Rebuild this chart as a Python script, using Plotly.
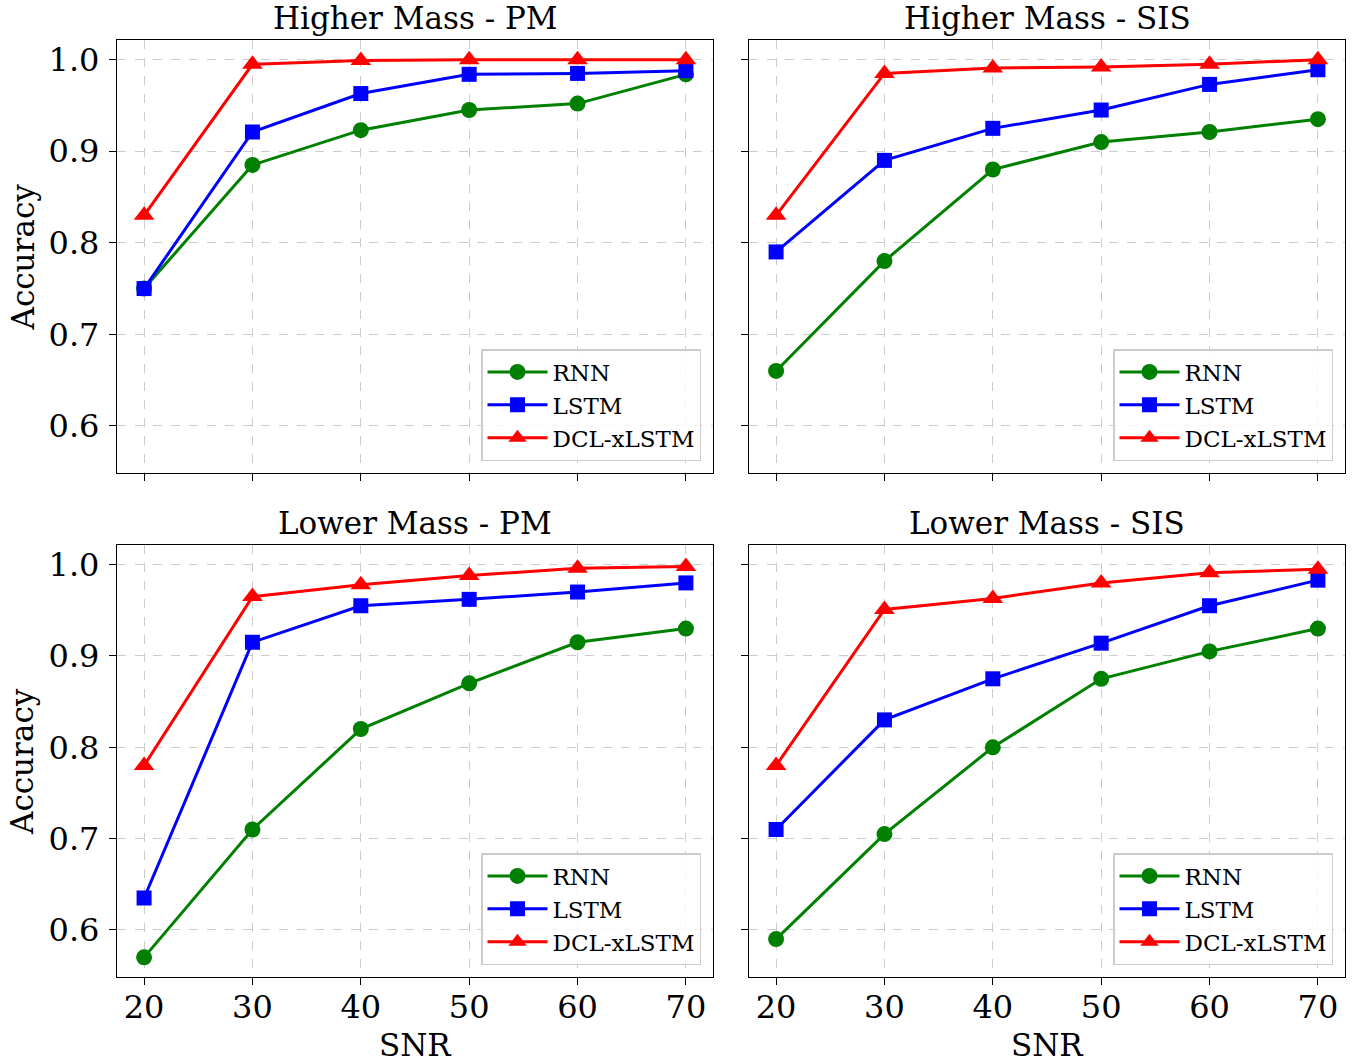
import plotly.graph_objects as go

snr = [20, 30, 40, 50, 60, 70]
y_ticks = [0.6, 0.7, 0.8, 0.9, 1.0]
models = ["RNN", "LSTM", "DCL-xLSTM"]

hm_pm_rnn = [0.75, 0.885, 0.923, 0.945, 0.952, 0.984]
hm_pm_lstm = [0.75, 0.921, 0.963, 0.984, 0.985, 0.988]
hm_pm_dcl = [0.83, 0.995, 0.999, 1.0, 1.0, 1.0]

hm_sis_rnn = [0.66, 0.78, 0.88, 0.91, 0.921, 0.935]
hm_sis_lstm = [0.79, 0.89, 0.925, 0.945, 0.973, 0.989]
hm_sis_dcl = [0.83, 0.985, 0.991, 0.992, 0.995, 1.0]

lm_pm_rnn = [0.57, 0.71, 0.82, 0.87, 0.915, 0.93]
lm_pm_lstm = [0.635, 0.915, 0.955, 0.962, 0.97, 0.98]
lm_pm_dcl = [0.78, 0.965, 0.978, 0.988, 0.996, 0.998]

lm_sis_rnn = [0.59, 0.705, 0.80, 0.875, 0.905, 0.93]
lm_sis_lstm = [0.71, 0.83, 0.875, 0.914, 0.955, 0.983]
lm_sis_dcl = [0.78, 0.951, 0.963, 0.98, 0.991, 0.995]

titles = ["Higher Mass - PM", "Higher Mass - SIS", "Lower Mass - PM", "Lower Mass - SIS"]
x_label = "SNR"
y_label = "Accuracy"
panels = [
    (hm_pm_rnn, hm_pm_lstm, hm_pm_dcl),
    (hm_sis_rnn, hm_sis_lstm, hm_sis_dcl),
    (lm_pm_rnn, lm_pm_lstm, lm_pm_dcl),
    (lm_sis_rnn, lm_sis_lstm, lm_sis_dcl),
]

colors = ["green", "blue", "red"]
symbols = ["circle", "square", "triangle-up"]
msizes = [16, 15, 18]

FONT = "DejaVu Serif"
W, H = 1356, 1062
AX_L, AX_R = 117, 1345
AX_T, AX_B = 40, 977
ML, MR, MT, MB = AX_L, W - AX_R, AX_T, H - AX_B
PW = AX_R - AX_L
PH = AX_B - AX_T

def px_x(x):
    return (x - AX_L) / PW

def px_y(y):
    return (AX_B - y) / PH

xdoms = [[px_x(117), px_x(713)], [px_x(749), px_x(1345)]]
ydoms = [[px_y(473), px_y(40)], [px_y(977), px_y(545)]]

fig = go.Figure()
annotations = []
layout = {}
for i, (title, data) in enumerate(zip(titles, panels)):
    r, c = divmod(i, 2)
    n = i + 1
    xa = "x" if n == 1 else f"x{n}"
    ya = "y" if n == 1 else f"y{n}"
    lg = "legend" if n == 1 else f"legend{n}"
    for j, (name, vals) in enumerate(zip(models, data)):
        fig.add_trace(go.Scatter(
            x=snr, y=vals, name=name, mode="lines+markers",
            line=dict(color=colors[j], width=3),
            marker=dict(symbol=symbols[j], size=msizes[j], color=colors[j]),
            xaxis=xa, yaxis=ya, legend=lg, showlegend=True,
        ))
    xkey = "xaxis" if n == 1 else f"xaxis{n}"
    ykey = "yaxis" if n == 1 else f"yaxis{n}"
    layout[xkey] = dict(
        domain=xdoms[c], anchor=ya, range=[17.5, 72.5],
        tickvals=snr, ticktext=[str(v) for v in snr],
        showticklabels=(r == 1),
        ticks="outside", ticklen=7, tickwidth=1.2, tickcolor="black",
        showline=True, mirror=True, linecolor="black", linewidth=1.3,
        showgrid=True, gridcolor="#cccccc", griddash="dash", gridwidth=1,
        zeroline=False,
        tickfont=dict(family=FONT, size=32, color="black"),
        ticklabelstandoff=-6,
        automargin=False,
    )
    layout[ykey] = dict(
        domain=ydoms[r], anchor=xa, range=[0.5485, 1.0215],
        tickvals=y_ticks, ticktext=[f"{v:.1f}" for v in y_ticks],
        showticklabels=(c == 0),
        ticks="outside", ticklen=7, tickwidth=1.2, tickcolor="black",
        showline=True, mirror=True, linecolor="black", linewidth=1.3,
        showgrid=True, gridcolor="#cccccc", griddash="dash", gridwidth=1,
        zeroline=False,
        tickfont=dict(family=FONT, size=32, color="black"),
        ticklabelstandoff=3,
        automargin=False,
    )
    layout[lg] = dict(
        x=xdoms[c][1] - 12 / PW, y=ydoms[r][0] + 12 / PH,
        xanchor="right", yanchor="bottom",
        bgcolor="rgba(255,255,255,0.8)", bordercolor="#cccccc", borderwidth=1.5,
        font=dict(family=FONT, size=23, color="black"),
        itemwidth=60, tracegroupgap=0,
    )
    annotations.append(dict(
        text=title, x=(xdoms[c][0] + xdoms[c][1]) / 2, y=ydoms[r][1],
        xref="paper", yref="paper", xanchor="center", yanchor="bottom",
        yshift=2, showarrow=False,
        font=dict(family=FONT, size=31, color="black"),
    ))
    if r == 1:
        annotations.append(dict(
            text=x_label, x=(xdoms[c][0] + xdoms[c][1]) / 2, y=px_y(1045),
            xref="paper", yref="paper", xanchor="center", yanchor="middle",
            showarrow=False, font=dict(family=FONT, size=31, color="black"),
        ))
    if c == 0:
        annotations.append(dict(
            text=y_label, x=px_x(22), y=(ydoms[r][0] + ydoms[r][1]) / 2,
            xref="paper", yref="paper", xanchor="center", yanchor="middle",
            textangle=-90, showarrow=False,
            font=dict(family=FONT, size=31, color="black"),
        ))

fig.update_layout(
    width=W, height=H,
    margin=dict(l=ML, r=MR, t=MT, b=MB),
    paper_bgcolor="white", plot_bgcolor="white",
    font=dict(family=FONT, color="black"),
    annotations=annotations,
    **layout,
)

fig.write_html(
    "out.html",
    config={"displayModeBar": False},
    post_script="document.body.style.margin='0';document.body.style.overflow='hidden';",
)
